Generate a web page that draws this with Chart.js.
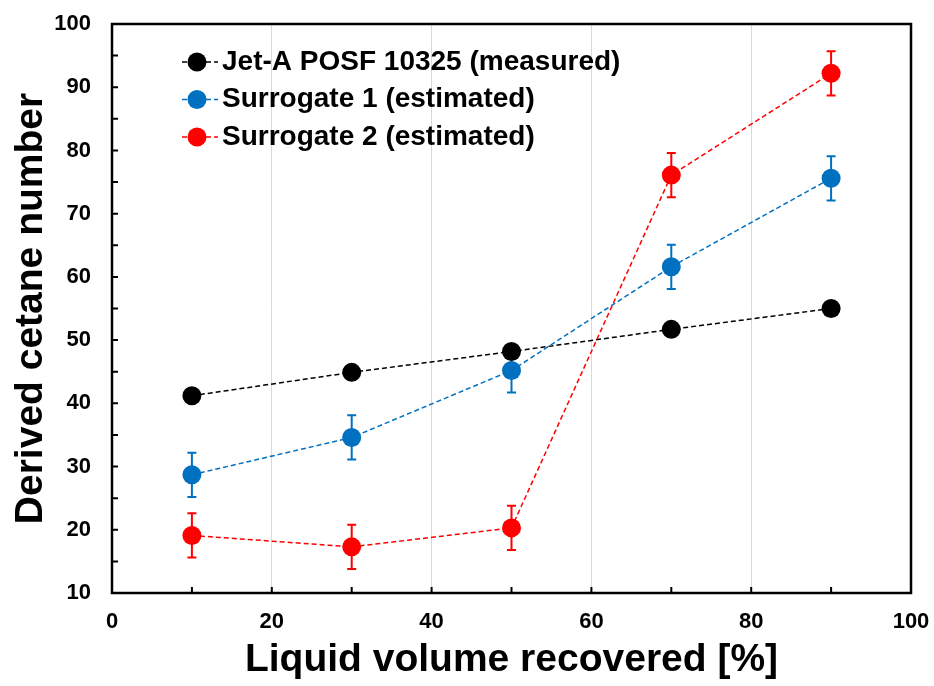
<!DOCTYPE html>
<html>
<head>
<meta charset="utf-8">
<script src="https://cdn.jsdelivr.net/npm/chart.js@4"></script>
<style>
  html, body { margin: 0; padding: 0; background: #fff; }
  #wrap { width: 934px; height: 686px; }
</style>
</head>
<body>
<div id="wrap"><canvas id="cetaneChart" width="934" height="686"></canvas></div>
<script>
// Derived cetane number vs. recovered volume fraction
const volume = [10, 30, 50, 70, 90];
const jetA = [41.2, 44.9, 48.2, 51.7, 55.0];
const surrogate1 = [28.7, 34.6, 45.2, 61.6, 75.6];
const surrogate1Err = [3.5, 3.5, 3.5, 3.5, 3.5];
const surrogate2 = [19.1, 17.3, 20.3, 76.1, 92.2];
const surrogate2Err = [3.5, 3.5, 3.5, 3.5, 3.5];

const seriesLabels = [
  'Jet-A POSF 10325 (measured)',
  'Surrogate 1 (estimated)',
  'Surrogate 2 (estimated)'
];

const FONT = '"Liberation Sans", Arial, sans-serif';
const colors = ['#000000', '#0070C0', '#FF0000'];

function toPoints(xs, ys) {
  return xs.map((x, i) => ({ x: x, y: ys[i] }));
}

function makeDataset(idx, ys, errs) {
  return {
    label: seriesLabels[idx],
    data: toPoints(volume, ys),
    errors: errs || null,
    showLine: true,
    borderColor: colors[idx],
    borderWidth: 1.5,
    borderDash: [5, 3],
    backgroundColor: colors[idx],
    pointRadius: 9.5,
    pointHoverRadius: 9.5,
    pointBorderWidth: 0,
    pointBackgroundColor: colors[idx],
    order: 3 - idx
  };
}

// error bars, drawn under the markers
const errorBars = {
  id: 'errorBars',
  beforeDatasetsDraw(chart) {
    const ctx = chart.ctx;
    const xs = chart.scales.x, ys = chart.scales.y;
    chart.data.datasets.forEach(ds => {
      if (!ds.errors) return;
      ctx.save();
      ctx.strokeStyle = ds.borderColor;
      ctx.lineWidth = 2;
      ds.data.forEach((p, i) => {
        const e = ds.errors[i];
        const px = xs.getPixelForValue(p.x);
        const top = ys.getPixelForValue(p.y + e);
        const bot = ys.getPixelForValue(p.y - e);
        ctx.beginPath();
        ctx.moveTo(px, top); ctx.lineTo(px, bot);
        ctx.moveTo(px - 4.5, top); ctx.lineTo(px + 4.5, top);
        ctx.moveTo(px - 4.5, bot); ctx.lineTo(px + 4.5, bot);
        ctx.stroke();
      });
      ctx.restore();
    });
  }
};

// box around the plot plus inward tick marks
const frameTicks = {
  id: 'frameTicks',
  beforeDatasetsDraw(chart) {
    const { ctx, chartArea: a } = chart;
    const xs = chart.scales.x, ys = chart.scales.y;
    ctx.save();
    ctx.strokeStyle = '#000';
    ctx.lineWidth = 2;
    ctx.beginPath();
    for (let v = xs.min; v <= xs.max; v += 10) {
      const px = xs.getPixelForValue(v);
      ctx.moveTo(px, a.bottom); ctx.lineTo(px, a.bottom - 6);
    }
    for (let v = ys.min; v <= ys.max; v += 5) {
      const py = ys.getPixelForValue(v);
      ctx.moveTo(a.left, py); ctx.lineTo(a.left + 6, py);
    }
    ctx.stroke();
    ctx.lineWidth = 2.5;
    ctx.strokeRect(a.left, a.top, a.right - a.left, a.bottom - a.top);
    ctx.restore();
  }
};

// legend inside the plot, top left
const insideLegend = {
  id: 'insideLegend',
  afterDraw(chart) {
    const { ctx, chartArea: a } = chart;
    const x0 = a.left + 70, markX = a.left + 85, textX = a.left + 110;
    chart.data.datasets.forEach((ds, i) => {
      const y = a.top + 38 + i * 37.5;
      ctx.save();
      ctx.strokeStyle = ds.borderColor;
      ctx.lineWidth = 1.5;
      ctx.setLineDash([5, 3]);
      ctx.beginPath();
      ctx.moveTo(x0, y); ctx.lineTo(x0 + 36, y);
      ctx.stroke();
      ctx.setLineDash([]);
      ctx.fillStyle = ds.pointBackgroundColor;
      ctx.beginPath();
      ctx.arc(markX, y, 9.5, 0, Math.PI * 2);
      ctx.fill();
      ctx.fillStyle = '#000';
      ctx.font = 'bold 28px ' + FONT;
      ctx.textBaseline = 'middle';
      ctx.textAlign = 'left';
      ctx.fillText(ds.label, textX, y);
      ctx.restore();
    });
  }
};

new Chart(document.getElementById('cetaneChart').getContext('2d'), {
  type: 'scatter',
  data: {
    datasets: [
      makeDataset(0, jetA),
      makeDataset(1, surrogate1, surrogate1Err),
      makeDataset(2, surrogate2, surrogate2Err)
    ]
  },
  options: {
    responsive: false,
    devicePixelRatio: 1,
    animation: false,
    layout: { padding: { top: 24, right: 23, left: 0, bottom: 0 } },
    plugins: {
      legend: { display: false },
      tooltip: { enabled: false }
    },
    scales: {
      x: {
        type: 'linear',
        min: 0,
        max: 100,
        afterFit: s => {
          s.height = 93;
          s.paddingLeft = 0;
          s.paddingRight = 0;
        },
        ticks: {
          stepSize: 20,
          padding: 16,
          color: '#000',
          font: { family: FONT, size: 22, weight: 'bold' }
        },
        grid: {
          drawTicks: false,
          lineWidth: 1,
          color: c => (c.tick && (c.tick.value === 0 || c.tick.value === 100)) ? 'rgba(0,0,0,0)' : '#D9D9D9'
        },
        border: { display: false },
        title: {
          display: true,
          text: 'Liquid volume recovered [%]',
          color: '#000',
          padding: { top: 0, bottom: 2 },
          font: { family: FONT, size: 39, weight: 'bold' }
        }
      },
      y: {
        type: 'linear',
        min: 10,
        max: 100,
        afterFit: s => {
          s.width = 112;
          s.paddingTop = 0;
          s.paddingBottom = 0;
        },
        ticks: {
          stepSize: 10,
          padding: 21,
          color: '#000',
          font: { family: FONT, size: 22, weight: 'bold' }
        },
        grid: { display: false, drawTicks: false },
        border: { display: false },
        title: {
          display: true,
          text: 'Derived cetane number',
          color: '#000',
          padding: { top: 8, bottom: 0 },
          font: { family: FONT, size: 39, weight: 'bold' }
        }
      }
    }
  },
  plugins: [errorBars, frameTicks, insideLegend]
});
</script>
</body>
</html>
